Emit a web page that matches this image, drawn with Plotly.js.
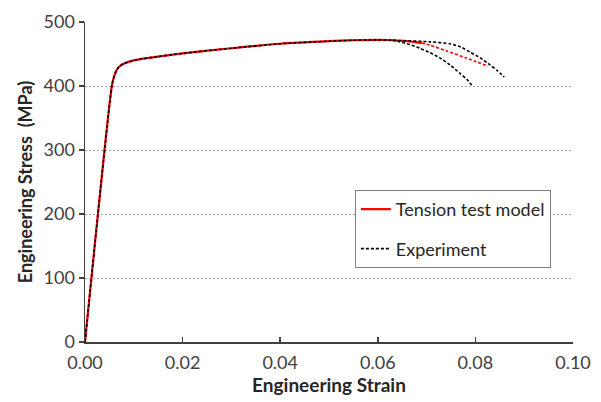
<!DOCTYPE html>
<html>
<head>
<meta charset="utf-8">
<script src="https://cdn.plot.ly/plotly-3.0.1.min.js"></script>
<style>
  html, body { margin: 0; padding: 0; background: #fff; }
  #chart { width: 601px; height: 402px; }
</style>
</head>
<body>
<div id="chart"></div>
<script>
// Tension test model (solid portion) and its dashed continuation past necking
const modelStrain = [0, 0.0055, 0.006, 0.0065, 0.007, 0.008, 0.01, 0.015, 0.02, 0.03, 0.04, 0.05, 0.055, 0.06, 0.063, 0.066, 0.069];
const modelStress = [0, 400, 416, 425, 430, 435, 440, 446, 451, 459, 466, 470, 471.5, 472, 471.5, 470, 467];
const modelTailStrain = [0.069, 0.0707, 0.074, 0.078, 0.0826];
const modelTailStress = [467, 464, 455, 444, 431];

// Experiment, specimen A (full curve)
const expAStrain = [0, 0.0055, 0.006, 0.0065, 0.007, 0.008, 0.01, 0.015, 0.02, 0.03, 0.04, 0.05, 0.055, 0.06, 0.063, 0.065, 0.0707, 0.0748, 0.077, 0.0789, 0.081, 0.083, 0.0845, 0.0859];
const expAStress = [0, 400, 416, 425, 430, 435, 440, 446, 451, 459, 466, 470, 471.5, 472, 471.5, 471, 469, 466, 461, 453, 444, 433, 424, 414];
// Experiment, specimen B (branch after the common part)
const expBStrain = [0.063, 0.0645, 0.0665, 0.0686, 0.0707, 0.0727, 0.0748, 0.0768, 0.0783, 0.0793];
const expBStress = [471.5, 469, 465, 459, 452, 444, 433, 420, 410, 401];

const xTicks = [0, 0.02, 0.04, 0.06, 0.08, 0.10];
const xTickText = ['0.00', '0.02', '0.04', '0.06', '0.08', '0.10'];
const yTicks = [0, 100, 200, 300, 400, 500];

const FONT = 'Lato, "Open Sans", sans-serif';
const expDash = '3px,2px';

const traces = [
  { x: modelStrain, y: modelStress, mode: 'lines', name: 'Tension test model', legendgroup: 'model',
    line: { color: '#ff0000', width: 2.2, shape: 'spline', smoothing: 0.6 } },
  { x: modelTailStrain, y: modelTailStress, mode: 'lines', showlegend: false, legendgroup: 'model',
    line: { color: '#ff0000', width: 1.6, dash: expDash, shape: 'spline', smoothing: 0.6 } },
  { x: expAStrain, y: expAStress, mode: 'lines', name: 'Experiment', legendgroup: 'exp',
    line: { color: '#000000', width: 1.6, dash: expDash, shape: 'spline', smoothing: 0.6 } },
  { x: expBStrain, y: expBStress, mode: 'lines', showlegend: false, legendgroup: 'exp',
    line: { color: '#000000', width: 1.6, dash: expDash, shape: 'spline', smoothing: 0.6 } }
];

const layout = {
  width: 601, height: 402,
  margin: { l: 85, r: 28, t: 22, b: 60 },
  paper_bgcolor: '#ffffff', plot_bgcolor: '#ffffff',
  font: { family: FONT, size: 18, color: '#404040' },
  showlegend: true,
  legend: {
    x: 0.553, y: 0.475, xanchor: 'left', yanchor: 'top',
    bgcolor: '#ffffff', bordercolor: '#808080', borderwidth: 1,
    font: { family: FONT, size: 18, color: '#262626' },
    tracegroupgap: 13, itemwidth: 30
  },
  xaxis: {
    range: [0, 0.10], tickvals: xTicks, ticktext: xTickText,
    showgrid: false, zeroline: false,
    showline: true, linecolor: '#404040', linewidth: 1.5,
    ticks: 'inside', ticklen: 5, tickcolor: '#404040', tickwidth: 1.5,
    ticklabelstandoff: 4,
    tickfont: { family: FONT, size: 18, color: '#404040' },
    title: { text: '<b>Engineering Strain</b>', standoff: 2,
             font: { family: FONT, size: 19, color: '#262626' } }
  },
  yaxis: {
    range: [0, 500], tickvals: yTicks,
    showgrid: true, gridcolor: '#a6a6a6', griddash: '2px,2px', gridwidth: 1,
    zeroline: false,
    showline: true, linecolor: '#404040', linewidth: 1.5,
    ticks: 'outside', ticklen: 5, tickcolor: '#404040', tickwidth: 1.5,
    tickfont: { family: FONT, size: 18, color: '#404040' },
    title: { text: '<b>Engineering Stress\u00a0\u00a0(MPa)</b>', standoff: 6,
             font: { family: FONT, size: 18, color: '#262626' } }
  }
};

Plotly.newPlot('chart', traces, layout, { staticPlot: true, displayModeBar: false });
</script>
</body>
</html>
